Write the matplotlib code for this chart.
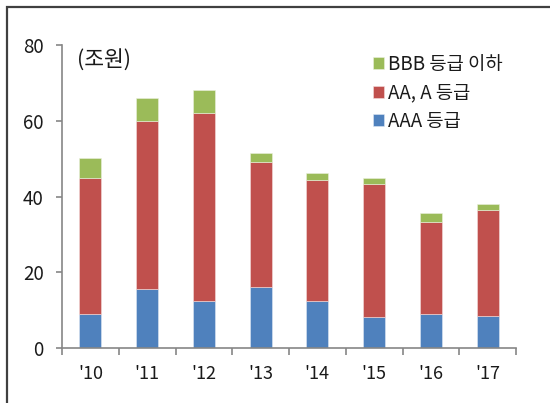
import matplotlib
matplotlib.use("Agg")
import matplotlib.pyplot as plt
from matplotlib.patches import Rectangle
import numpy as np

plt.rcParams['font.family'] = ['Noto Sans CJK KR', 'DejaVu Sans']

# Data (조원)
years = ["'10", "'11", "'12", "'13", "'14", "'15", "'16", "'17"]
aaa = [9.0, 15.6, 12.4, 16.0, 12.4, 8.1, 9.0, 8.5]
aa_a = [35.8, 44.4, 49.6, 33.0, 31.9, 35.1, 24.3, 27.9]
bbb = [5.4, 5.9, 6.0, 2.4, 2.0, 1.8, 2.4, 1.7]

colors = {"aaa": "#4F81BD", "aa_a": "#C0504D", "bbb": "#9BBB59"}
axis_color = "#868686"
text_color = "#1a1a1a"

fig = plt.figure(figsize=(5.5, 4.03), dpi=100)
ax = fig.add_axes([62 / 550, 1 - 348 / 403, (516 - 62) / 550, (348 - 45) / 403])

x = np.arange(len(years))
w = 0.39
aaa_arr = np.array(aaa)
aa_arr = np.array(aa_a)
b1 = ax.bar(x, aaa_arr, w, color=colors["aaa"], edgecolor="#dfe8f3", linewidth=0.4)
b2 = ax.bar(x, aa_arr, w, bottom=aaa_arr, color=colors["aa_a"], edgecolor="#f3dede", linewidth=0.4)
b3 = ax.bar(x, bbb, w, bottom=aaa_arr + aa_arr, color=colors["bbb"], edgecolor="#ebf1de", linewidth=0.4)

ax.set_xlim(-0.5, len(years) - 0.5)
ax.set_ylim(0, 80)
ax.set_yticks([0, 20, 40, 60, 80])
ax.set_xticks(x)
ax.set_xticklabels(years)
ax.set_xticks(np.arange(-0.5, len(years)), minor=True)

for s in ["top", "right"]:
    ax.spines[s].set_visible(False)
for s in ["left", "bottom"]:
    ax.spines[s].set_color(axis_color)
    ax.spines[s].set_linewidth(1.2)

ax.tick_params(axis="y", direction="out", length=4.3, width=1.2, color=axis_color,
               labelsize=13.5, pad=9, labelcolor=text_color)
ax.tick_params(axis="x", which="major", length=0, labelsize=13, pad=12, labelcolor=text_color)
ax.tick_params(axis="x", which="minor", direction="out", length=5, width=1.2, color=axis_color)
for lbl in ax.get_xticklabels() + ax.get_yticklabels():
    lbl.set_fontweight("medium")

ax.text(77 / 550, 1 - 61 / 403, "(조원)", transform=fig.transFigure, fontsize=15.5,
        va="center", ha="left", color=text_color)

leg = ax.legend([b3, b2, b1], ["BBB 등급 이하", "AA, A 등급", "AAA 등급"],
                loc="upper left", bbox_to_anchor=(373 / 550, 1 - 54 / 403),
                bbox_transform=fig.transFigure, frameon=False, fontsize=13.5,
                handlelength=0.6, handleheight=0.6, handletextpad=0.2,
                labelspacing=0.4, borderaxespad=0, borderpad=0)
for t in leg.get_texts():
    t.set_color(text_color)

# outer frame
fig.patches.append(Rectangle((7 / 550, -0.2), 1.5, 1.2 - 7 / 403, transform=fig.transFigure,
                             fill=False, edgecolor="#404040", linewidth=1.6))

fig.savefig("out.png", dpi=100)
